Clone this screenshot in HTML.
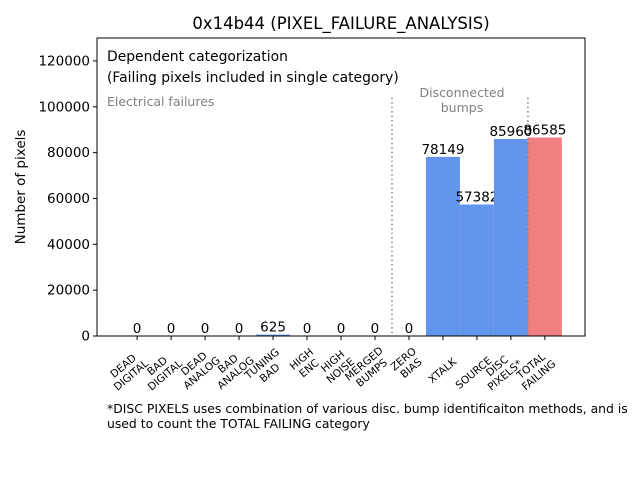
<!DOCTYPE html>
<html><head><meta charset="utf-8"><style>
body{margin:0;background:#fff}
svg{font-family:"DejaVu Sans","Liberation Sans",sans-serif}
</style></head><body>
<svg id="c" width="640" height="480" viewBox="0 0 640 480" xmlns="http://www.w3.org/2000/svg">
<rect width="640" height="480" fill="#fff"/>
<text x="341" y="29" font-size="16.5" text-anchor="middle">0x14b44 (PIXEL_FAILURE_ANALYSIS)</text>
<g id="bars"></g>
<g id="axes"></g>
<text x="107" y="61" font-size="13.9">Dependent categorization</text>
<text x="107" y="82" font-size="13.9">(Failing pixels included in single category)</text>
<text x="107" y="106" font-size="12.5" fill="#808080">Electrical failures</text>
<text x="462" y="97" font-size="12.5" fill="#808080" text-anchor="middle">Disconnected</text>
<text x="462" y="112" font-size="12.5" fill="#808080" text-anchor="middle">bumps</text>
<text x="25" y="187" font-size="13.5" text-anchor="middle" transform="rotate(-90 25 187)">Number of pixels</text>
<text x="107" y="413" font-size="12.4">*DISC PIXELS uses combination of various disc. bump identificaiton methods, and is</text>
<text x="107" y="428" font-size="12.4">used to count the TOTAL FAILING category</text>
</svg>
<script>
const categories=[["DEAD","DIGITAL"],["BAD","DIGITAL"],["DEAD","ANALOG"],["BAD","ANALOG"],["TUNING","BAD"],["HIGH","ENC"],["HIGH","NOISE"],["MERGED","BUMPS"],["ZERO","BIAS"],["XTALK"],["SOURCE"],["DISC","PIXELS*"],["TOTAL","FAILING"]];
const values=[0,0,0,0,625,0,0,0,0,78149,57382,85960,86585];
const yTicks=[0,20000,40000,60000,80000,100000,120000];
const dividers=[7.5,11.5];
const dividerTop=104000;
const L=97,R=585,T=38,B=336,xmin=-1.18,xmax=13.18,ymax=130000;
const sx=v=>L+(v-xmin)/(xmax-xmin)*(R-L);
const sy=v=>B-v/ymax*(B-T);
const NS="http://www.w3.org/2000/svg";
function mk(t,a,p){const e=document.createElementNS(NS,t);for(const k in a)e.setAttribute(k,a[k]);p.appendChild(e);return e;}
const bars=document.getElementById('bars'),axes=document.getElementById('axes');
values.forEach((v,i)=>{
 const x0=sx(i-0.5),x1=sx(i+0.5);
 const r=mk('rect',{x:x0,y:sy(v),width:x1-x0,height:B-sy(v),fill:i===12?'#f08080':'#6495ed'},bars);
 
 
 const t=mk('text',{x:sx(i),y:sy(v)-3,'font-size':13.5,'text-anchor':'middle'},bars);
 t.textContent=v;
 
 
});
dividers.forEach((d,i)=>{
 const l=mk('line',{x1:sx(d),x2:sx(d),y1:sy(dividerTop),y2:B,stroke:'#808080','stroke-width':1.5,'stroke-dasharray':'1.5,3'},axes);
 
 
});
const fr=mk('rect',{x:L,y:T,width:R-L,height:B-T,fill:'none',stroke:'#000','stroke-width':1},axes);


yTicks.forEach(v=>{
 mk('line',{x1:L-4,x2:L,y1:sy(v),y2:sy(v),stroke:'#000'},axes);
 const t=mk('text',{x:L-7,y:sy(v)+4.5,'font-size':13.5,'text-anchor':'end'},axes);
 t.textContent=v;
 
 
});
categories.forEach((c,i)=>{
 const x=sx(i);
 mk('line',{x1:x,x2:x,y1:B,y2:B+4,stroke:'#000'},axes);
 const g=mk('text',{'font-size':10.5,'text-anchor':'middle',transform:`translate(${x+9},${B+18}) rotate(-40)`},axes);
 
 
 const w=Math.max(...c.map(s=>s.length))*3.6;
 c.forEach((s,j)=>{const ts=mk('tspan',{x:-w,y:j*12-(c.length-1)*12+10},g);ts.textContent=s;});
});
</script>
</body></html>
